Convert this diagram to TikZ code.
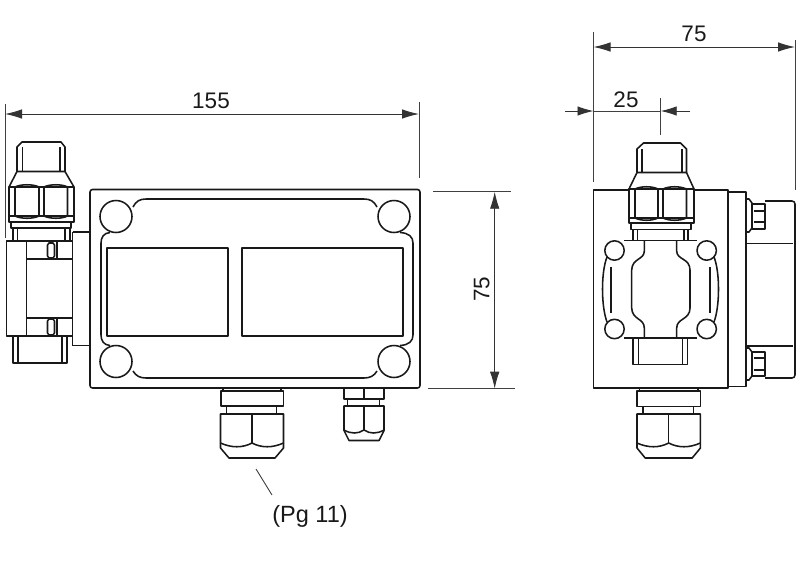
\documentclass[tikz,border=0pt]{standalone}
\usepackage{fontspec}
\setmainfont{Liberation Sans}
\usetikzlibrary{arrows.meta}
\tikzset{
  part/.style={draw=black!90,line width=1.55pt,line join=round},
  ext/.style={draw=black!75,line width=0.9pt},
  dim/.style={draw=black!80,line width=0.9pt,{Latex[length=17pt,width=9.5pt]}-{Latex[length=17pt,width=9.5pt]}},
  arr/.style={draw=black!80,line width=0.9pt,-{Latex[length=16pt,width=9.5pt]}},
  lab/.style={font=\fontsize{22.5}{24}\selectfont,text=black!90,inner sep=0pt}
}
\newcommand{\capnut}[7]{% cx, halfwidth, top, curveY, bottom, bottomhalf, dip
  \draw[part] (#1-#2,#3) -- (#1+#2,#3) -- (#1+#2,#5-10) -- (#1+#6,#5) -- (#1-#6,#5) -- (#1-#2,#5-10) -- cycle;
  \draw[part] (#1,#3) -- (#1,#4);
  \draw[part] (#1-#2,#4) .. controls (#1-#2*0.65,#4+#7) and (#1-#2*0.3,#4+#7) .. (#1,#4)
     .. controls (#1+#2*0.3,#4+#7) and (#1+#2*0.65,#4+#7) .. (#1+#2,#4);
}
\begin{document}
\begin{tikzpicture}[x=1pt,y=-1pt]
\useasboundingbox (0,0) rectangle (800,566);
% ---------- left view: main box
\draw[part,rounded corners=2.5pt] (90,189.5) rectangle (420,388);
\foreach \cx/\cy in {116/216.5,394/216.5,116/361.5,394/361.5}
  \draw[part] (\cx,\cy) circle[radius=16];
\draw[part] (133,207) .. controls (136,201) and (140,199) .. (146,199) -- (364,199) .. controls (370,199) and (374,201) .. (377,207);
\draw[part] (133,371) .. controls (136,376) and (140,378) .. (146,378) -- (364,378) .. controls (370,378) and (374,376) .. (377,371);
\draw[part] (110,232.5) .. controls (104,233) and (101,237) .. (101,243) -- (101,335) .. controls (101,341) and (104,345) .. (110,345.5);
\draw[part] (400,232.5) .. controls (409,233) and (413,237) .. (413,243) -- (413,335) .. controls (413,341) and (409,345) .. (400,345.5);
\draw[part] (107,248) rectangle (228,336);
\draw[part] (242,248) rectangle (403,336);
% ---------- left view: side gland
\draw[part] (72.5,232) -- (89.5,232);
\draw[part] (72.5,345.7) -- (89.5,345.7);
\draw[part] (72.5,232) -- (72.5,345.7);
\draw[part] (6.5,241) rectangle (72.5,336);
\draw[part] (26.5,241) -- (26.5,336);
\draw[part] (26.5,259) -- (72.5,259);
\draw[part] (26.5,318) -- (72.5,318);
\foreach \ya/\yb in {243/258,319/335}{
  \draw[part] (49,\ya) -- (53,\ya) -- (54.5,\ya+2) -- (54.5,\yb-2) -- (53,\yb) -- (49,\yb) -- (47.5,\yb-2) -- (47.5,\ya+2) -- cycle;
  \draw[part] (57,\ya-2) -- (57,\yb+1);
}
\draw[part] (13,336) -- (13,363) -- (67,363) -- (67,336);
\draw[part] (18,336) -- (18,363);
\draw[part] (62,336) -- (62,363);
\draw[part] (22,142) -- (61,142) -- (65,147) -- (65,171.5) -- (17,171.5) -- (17,147) -- cycle;
\draw[part] (22.5,147) -- (22.5,171.5);
\draw[part] (60,147) -- (60,171.5);
\draw[part] (17,171.5) -- (9,187);
\draw[part] (65,171.5) -- (74,187);
\draw[part] (9,187) rectangle (74,222);
\draw[part] (9,216) -- (74,216);
\draw[part] (11,222) rectangle (71,228);
\draw[part] (15,187) .. controls (21,184) and (33,184) .. (39,187) -- (39,216);
\draw[part] (15,187) -- (15,216) .. controls (21,219) and (33,219) .. (39,216);
\draw[part] (44,187) .. controls (50,184) and (62,184) .. (67.5,187) -- (67.5,216);
\draw[part] (44,187) -- (44,216) .. controls (50,219) and (62,219) .. (67.5,216);
\foreach \x in {13,17.5,65,70}
  \draw[part] (\x,228) -- (\x,241);
% ---------- bottom glands, left view
\draw[part] (223,388) -- (223,391) (281,388) -- (281,391);
\draw[part] (221,391) rectangle (283.5,406);
\draw[part] (226.5,406) -- (226.5,414) (276.5,406) -- (276.5,414);
\capnut{252}{31.5}{414}{443}{458}{23}{5}
\draw[part] (344,388) rectangle (384,399);
\draw[part] (364,388) -- (364,399);
\draw[part] (347.5,399) -- (347.5,406) (379.5,399) -- (379.5,406);
\capnut{364}{20}{406}{430}{440.5}{15}{4}
% ---------- right view
\draw[part] (593.5,190) rectangle (728,388);
\draw[part] (728,192) -- (746,192) -- (746,386.7) -- (728,386.7);
\draw[part,rounded corners=3pt] (746,201) -- (795,201) -- (795,378) -- (746,378);
\draw[part] (746,243.5) -- (793,243.5);
\draw[part] (746,346) -- (793,346);
% bolts
\foreach \ya/\yb/\yc/\yd/\ye/\yf in {199/232/204/229/211/222,348/380/352/376/358/370}{
  \fill[white] (747,\ya) rectangle (765,\yb);
  \draw[part] (746,\ya) -- (749,\ya) -- (752,\ya+4) -- (752,\yb-4) -- (749,\yb) -- (746,\yb);
  \draw[part] (752,\yc) rectangle (765,\yd);
  \draw[part] (754,\ye) -- (765,\ye);
  \draw[part] (754,\yf) -- (765,\yf);
}
% right gland
\fill[white] (629,189) rectangle (694,230);
\draw[part] (643.5,143) -- (680.5,143) -- (686.5,149) -- (686.5,172.5) -- (637,172.5) -- (637,149) -- cycle;
\draw[part] (642,149) -- (642,172.5);
\draw[part] (682,149) -- (682,172.5);
\draw[part] (637,172.5) -- (629,189);
\draw[part] (686.5,172.5) -- (694,189);
\draw[part] (629,189) rectangle (694,223);
\draw[part] (629,218) -- (694,218);
\draw[part] (631,223) rectangle (691,229.5);
\draw[part] (635,189) .. controls (641,186) and (652,186) .. (658,189) -- (658,218);
\draw[part] (635,189) -- (635,218) .. controls (641,221) and (652,221) .. (658,218);
\draw[part] (663,189) .. controls (669,186) and (680,186) .. (686.5,189) -- (686.5,218);
\draw[part] (663,189) -- (663,218) .. controls (669,221) and (680,221) .. (686.5,218);
\foreach \x in {633,637.5,684,688}
  \draw[part] (\x,229.5) -- (\x,241);
% flange
\draw[part] (624,240.7) -- (697,240.7);
\draw[part] (624,338) -- (697,338);
\foreach \cx/\cy in {614.5/250.5,706.7/250.5,614.5/329,706.7/329}
  \draw[part] (\cx,\cy) circle[radius=9.7];
\draw[part] (607,257) .. controls (601,272) and (601,306) .. (607,322);
\draw[part] (714,257) .. controls (720,272) and (720,306) .. (714,322);
\draw[part] (611,267) -- (611,312.5);
\draw[part] (710,267) -- (710,312.5);
\draw[part] (644.3,241) -- (644.3,251) .. controls (644.3,260) and (632,258) .. (631.7,270) -- (631.7,308) .. controls (632,320) and (644.3,318) .. (644.3,328) -- (644.3,338);
\draw[part] (676.7,241) -- (676.7,251) .. controls (676.7,260) and (690,258) .. (690,270) -- (690,308) .. controls (690,320) and (676.7,318) .. (676.7,328) -- (676.7,338);
\draw[part] (633,338) -- (633,364.5) -- (687.7,364.5) -- (687.7,338);
\draw[part] (638.5,338) -- (638.5,364.5);
\draw[part] (682.7,338) -- (682.7,364.5);
% bottom gland right
\draw[part] (639.5,388) -- (639.5,391) (698,388) -- (698,391);
\draw[part] (637,391) rectangle (700.5,406.7);
\draw[part] (643,406.7) -- (643,414) (693.7,406.7) -- (693.7,414);
\capnut{668.7}{31.7}{414}{443}{458}{23.5}{5}
% ---------- dimensions
\coordinate (a155l) at (5,114);
\coordinate (a155r) at (419,114);
\draw[ext] (5,104) -- (5,238);
\draw[ext] (419,102) -- (419,178);
\draw[dim] (a155l) -- (a155r);
\node[lab] (t155) at (211,101) {155};
\coordinate (a75t) at (494.7,191.7);
\coordinate (a75b) at (494.7,388.7);
\draw[ext] (433,191.7) -- (511,191.7);
\draw[ext] (428,388.7) -- (515,388.7);
\draw[dim] (a75t) -- (a75b);
\node[lab,rotate=90] (t75a) at (481.7,289) {75};
\coordinate (b75l) at (593.5,47);
\coordinate (b75r) at (795,47);
\draw[ext] (593.5,32) -- (593.5,182);
\draw[ext] (795,40) -- (795,190);
\draw[dim] (b75l) -- (b75r);
\node[lab] (t75b) at (694,34) {75};
\coordinate (c25a) at (593.5,111);
\coordinate (c25b) at (660.7,111);
\coordinate (c25l) at (565,111);
\coordinate (c25r) at (690,111);
\draw[ext] (660.7,98) -- (660.7,135);
\draw[ext] (c25a) -- (c25b);
\draw[arr] (c25l) -- (c25a);
\draw[arr] (c25r) -- (c25b);
\node[lab] (t25) at (626,99.5) {25};
\coordinate (ldA) at (256,469);
\coordinate (ldB) at (272,495);
\draw[ext] (ldA) -- (ldB);
\node[lab,font=\fontsize{23.5}{25}\selectfont] (tpg) at (310,516) {(Pg 11)};
\end{tikzpicture}
\end{document}
